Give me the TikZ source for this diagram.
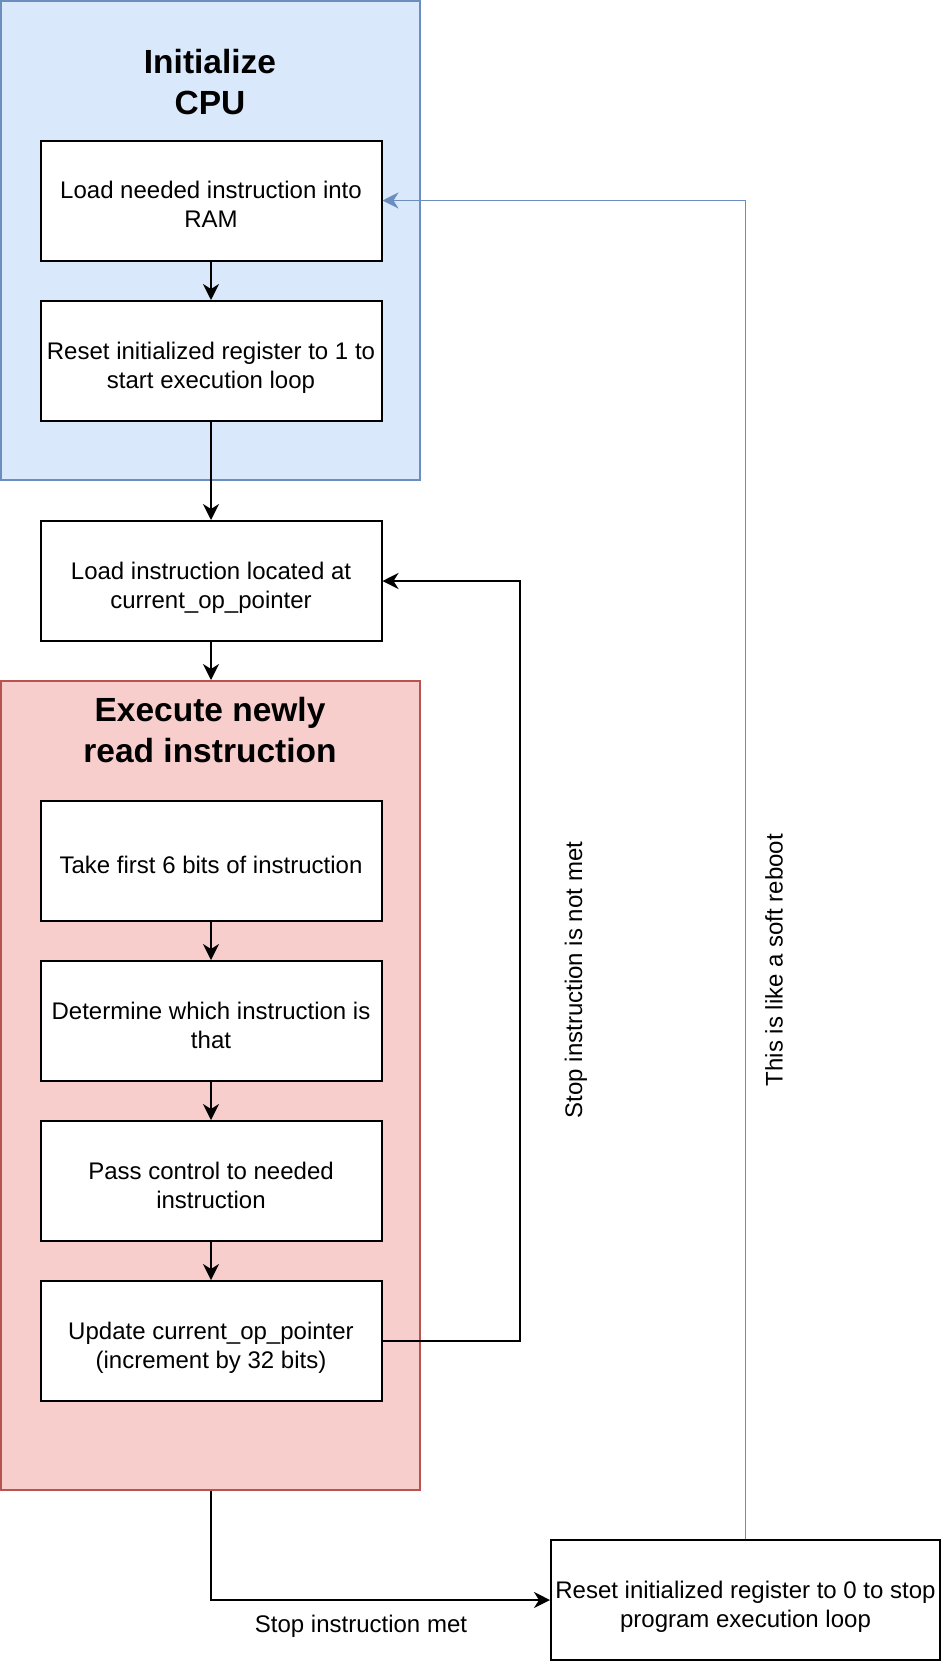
\documentclass[tikz,border=0pt]{standalone}
\usepackage{fontspec}
\setmainfont{Liberation Sans}
\usetikzlibrary{arrows.meta}
\definecolor{bluefill}{HTML}{DAE8FC}
\definecolor{blueline}{HTML}{6C8EBF}
\definecolor{redfill}{HTML}{F8CECC}
\definecolor{redline}{HTML}{B85450}
\newcommand\dn[1]{\raisebox{-7pt}[\height][\depth]{\begin{tabular}{@{}c@{}}#1\end{tabular}}}
\begin{document}
\begin{tikzpicture}[x=1pt,y=-1pt,
  txt/.style={font=\fontsize{24}{28.8}\selectfont, align=center, inner sep=0pt},
  stepbox/.style={font=\fontsize{24}{28.8}\selectfont, inner sep=0pt, draw=black, line width=2pt, fill=white, minimum width=341pt, minimum height=120pt},
  ttl/.style={font=\fontsize{33.5}{41}\selectfont\bfseries, align=center, inner sep=0pt},
  bluebox/.style={draw=blueline, fill=bluefill, line width=2pt, minimum width=419pt, minimum height=479pt, inner sep=0pt},
  redbox/.style={draw=redline, fill=redfill, line width=2pt, minimum width=419pt, minimum height=809pt, inner sep=0pt},
  conn/.style={draw=black, line width=2pt, -{Stealth[length=16pt,width=16pt,inset=5pt]}},
  bconn/.style={draw=blueline, line width=1.5pt, -{Stealth[length=16pt,width=16pt,inset=5pt]}}
]
\useasboundingbox (0,0) rectangle (942,1662);
\fill[white] (0,0) rectangle (942,1662);

% containers
\node[bluebox] (init) at (210.5,240.5) {};
\node[ttl] (initt) at (210,82) {Initialize\\CPU};
\node[redbox] (exec) at (210.5,1085.5) {};
\node[ttl] (exect) at (210,730.5) {Execute newly\\read instruction};

% boxes
\node[stepbox] (b1) at (211,200.5) {\dn{Load needed instruction into\\RAM}};
\node[stepbox] (b2) at (211,361) {\dn{Reset initialized register to 1 to\\start execution loop}};
\node[stepbox] (b3) at (211,581) {\dn{Load instruction located at\\current\_op\_pointer}};
\node[stepbox] (b4) at (211,861) {\dn{Take first 6 bits of instruction}};
\node[stepbox] (b5) at (211,1021) {\dn{Determine which instruction is\\that}};
\node[stepbox] (b6) at (211,1181) {\dn{Pass control to needed\\instruction}};
\node[stepbox] (b7) at (211,1341) {\dn{Update current\_op\_pointer\\(increment by 32 bits)}};
\node[stepbox, minimum width=389pt] (b8) at (745.5,1600) {\dn{Reset initialized register to 0 to stop\\program execution loop}};

% connectors
\draw[conn] (b1) -- (b2);
\draw[conn] (b2) -- (b3);
\draw[conn] (b3.south) -- (b3.south |- exec.north);
\draw[conn] (b4) -- (b5);
\draw[conn] (b5) -- (b6);
\draw[conn] (b6) -- (b7);
\coordinate (l1) at (520,1341);
\coordinate (l2) at (520,581);
\draw[conn] (b7.east) -- (l1) -- (l2) -- (b3.east);
\coordinate (s1) at (211,1600);
\draw[conn] (exec.south -| b7) -- (s1) -- (b8.west);
\coordinate (r1) at (745.5,200.5);
\draw[bconn] (b8.north) -- (r1) -- (b1.east);

% labels
\node[txt, rotate=90] (lnot) at (576,980) {Stop instruction is not met};
\node[txt, rotate=90] (lsoft) at (774,960) {This is like a soft reboot};
\node[txt] (lmet) at (361,1626) {Stop instruction met};
\end{tikzpicture}
\end{document}
